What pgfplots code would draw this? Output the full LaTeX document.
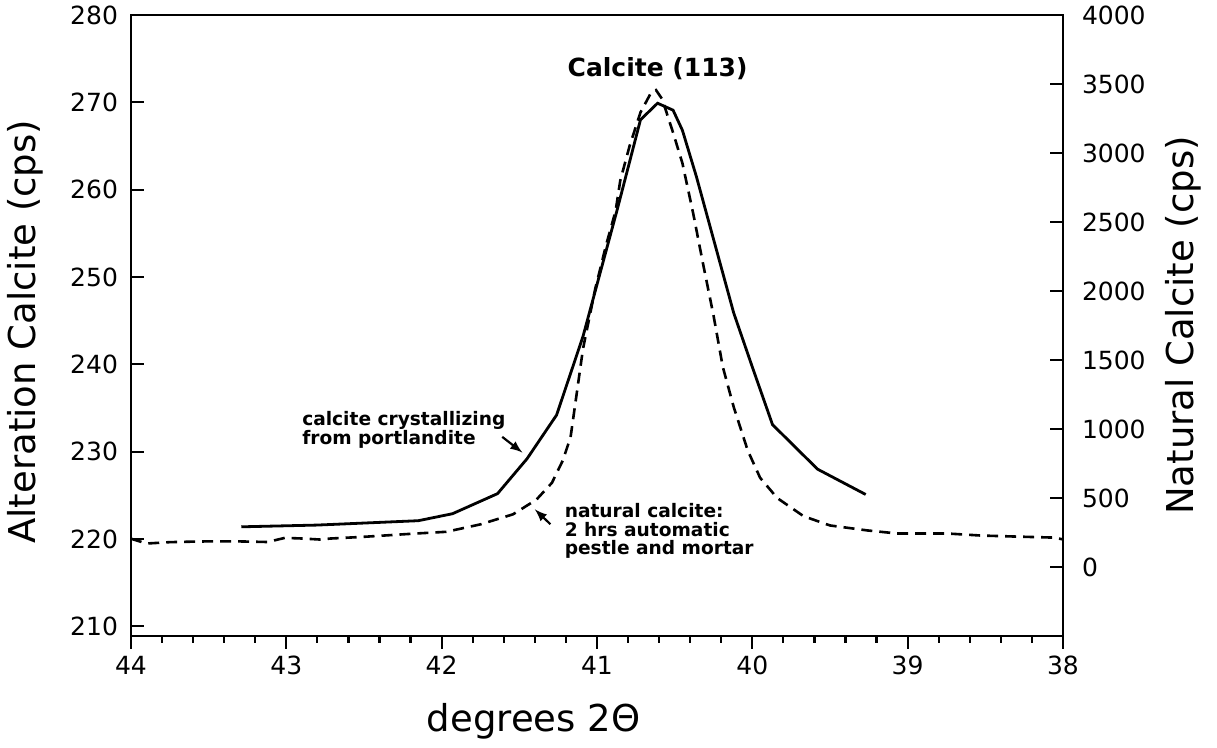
\documentclass[border=0pt]{standalone}
\usepackage{fontspec}
\setmainfont{DejaVu Sans}
\usepackage{pgfplots}
\pgfplotsset{compat=1.18}
\begin{document}
\begin{tikzpicture}
\useasboundingbox (-65.5pt,-56pt) rectangle (543pt,318pt);
\pgfplotsset{
 common/.style={
  scale only axis, width=466pt, height=310.5pt,
  x dir=reverse, xmin=38, xmax=44,
  axis line style={line width=1.2pt},
  every tick/.style={black, line width=1.1pt},
  major tick length=6.5pt, minor tick length=3.5pt,
  /pgf/number format/assume math mode=true,
  /pgf/number format/1000 sep={},
  scaled ticks=false,
  tick label style={font=\fontsize{12.5}{14}\selectfont},
  label style={font=\fontsize{18.5}{22}\selectfont},
 }
}
% Axis A: frame, x ticks, solid curve (left scale)
\begin{axis}[common, ymin=208.9, ymax=280,
  xtick={38,39,...,44}, minor x tick num=4, xtick pos=bottom, tick align=outside,
  ytick=\empty,
  xlabel={degrees 2Θ},
  xlabel style={at={(axis description cs:0.432,-0.138)}, anchor=center}]
\addplot[black, line width=1.4pt, mark=none] coordinates {
(43.29,221.4) (42.80,221.6) (42.15,222.1) (41.93,222.9) (41.64,225.2) (41.45,229.2)
(41.26,234.2) (41.09,243.2) (40.87,257.7) (40.72,268.0) (40.61,269.9) (40.51,269.1)
(40.45,266.8) (40.36,261.5) (40.12,245.9) (40.00,239.7) (39.87,233.1) (39.58,228.0)
(39.27,225.1)};
\node[font=\bfseries\fontsize{12.5}{14}\selectfont, anchor=center] at (axis cs:40.61,273.9) {Calcite (113)};
\node[font=\bfseries\fontsize{9.3}{9.2}\selectfont, align=left, anchor=west, inner sep=0pt] at (axis cs:42.90,232.5) {calcite crystallizing\\from portlandite};
\draw[-latex, line width=1.1pt] (axis cs:41.61,231.7) -- (axis cs:41.48,229.9);
\node[font=\bfseries\fontsize{9.3}{9.2}\selectfont, align=left, anchor=west, inner sep=0pt] at (axis cs:41.21,220.9) {natural calcite:\\2 hrs automatic\\pestle and mortar};
\draw[-latex, line width=1.1pt] (axis cs:41.30,221.7) -- (axis cs:41.40,223.4);
\end{axis}
% Axis B: left y scale
\begin{axis}[common, ymin=208.9, ymax=280, hide x axis,
  axis y line*=left, y axis line style={-},
  ytick={210,220,...,280}, tick align=inside,
  yticklabel style={xshift=-3pt},
  ylabel={Alteration Calcite (cps)},
  ylabel style={at={(axis description cs:-0.113,0.49)}, anchor=center}]
\end{axis}
% Axis C: right y scale, dashed curve
\begin{axis}[common, ymin=-500, ymax=4000, hide x axis,
  axis y line*=right, y axis line style={-},
  ytick={0,500,...,4000}, tick align=inside,
  yticklabel style={xshift=6pt},
  ylabel={Natural Calcite (cps)},
  ylabel style={at={(axis description cs:1.129,0.5)}, anchor=center}]
\addplot[black, line width=1.3pt, dash pattern=on 5.5pt off 3.5pt, mark=none] coordinates {
(44.00,205) (43.90,170) (43.75,180) (43.55,185) (43.33,186) (43.12,181) (43.01,211)
(42.89,206) (42.77,198) (42.72,206) (42.51,218) (42.16,243) (41.97,255) (41.75,309)
(41.54,382) (41.39,488) (41.29,610) (41.22,772) (41.17,941) (41.09,1581) (41.01,2022)
(40.94,2338) (40.88,2581) (40.85,2801) (40.79,3051) (40.72,3294) (40.65,3441)
(40.62,3456) (40.58,3390) (40.51,3147) (40.45,2926) (40.38,2559) (40.32,2213)
(40.25,1824) (40.19,1450) (40.12,1160) (40.03,846) (39.95,647) (39.84,500) (39.67,368)
(39.50,301) (39.26,265) (39.07,243) (38.75,243) (38.53,228) (38.32,221) (38.06,213)
(38.00,200)};
\end{axis}
\end{tikzpicture}
\end{document}
